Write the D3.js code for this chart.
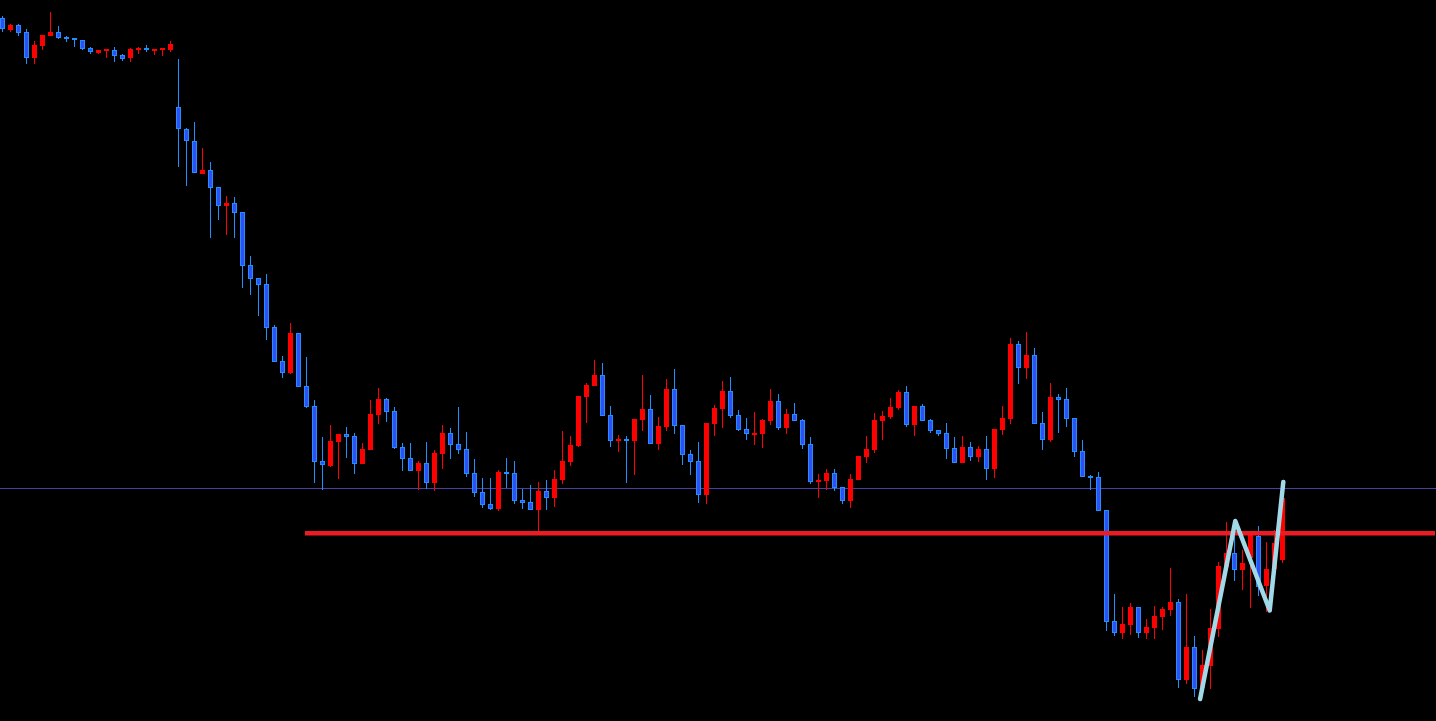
<!DOCTYPE html>
<html>
<head>
<meta charset="utf-8">
<script src="https://cdn.jsdelivr.net/npm/d3@7"></script>
<style>
html,body{margin:0;padding:0;background:#000;overflow:hidden;}
svg{display:block;}
</style>
</head>
<body>
<svg id="chart" width="1436" height="721"></svg>
<script>
// OHLC data (price points), one entry per bar
const open = [703,691,696,689,663,675,685,689,684,683,681,673,668,670.5,671,666,663,671,673,671,671,671,
614,592,580,547,551,534,515,518,509,456,443,437,394,360,348,388,335,315,260,255,279,287,285,257,271,306,322,310,274,263,250,258,238,267,288,277,272,248,229,217,212,249,248,221,219,211,230,223,241,259,275,324,335,346,306,280,282,280,301,312,277,294,332,296,267,260,226,297,312,330,306,292,287,287,300,320,293,307,301,277,239,240,248,234,220,241,264,271,300,304,313,329,296,315,301,291,288,273,258,274,264,272,252,291,302,377,353,366,298,281,324,322,303,270,245,244,211,100,88,96,114,88,93,104,111,119,41,74,33,55,92,154,168,151,163,185,135,152,161];
const high = [705,697,697,692,680,686,709,695,685,683,681,674,671,672,674,667,673,674,676,672,673,680,
662,593,599,573,559,534,525,524,509,465,443,447,396,365,398,388,364,321,284,296,287,294,288,278,321,333,323,314,278,278,260,279,271,296,293,314,289,262,243,243,251,263,260,232,236,239,241,251,290,285,325,338,361,358,315,286,285,302,346,326,304,342,352,296,271,279,298,316,340,344,311,303,309,302,332,327,312,318,302,284,247,252,252,234,247,265,285,308,310,323,331,335,315,317,302,291,298,284,285,279,275,285,292,315,383,380,389,373,309,338,327,333,303,281,246,249,211,127,114,118,114,102,115,114,153,122,127,85,71,112,159,199,193,171,186,195,179,191,231];
const low = [689,689,685,657,657,671,685,682,679,674,671,667,667,663,659,660,659,667,669,666,665,669,
554,535,548,547,483,501,486,483,433,426,405,381,359,343,347,334,313,238,231,254,242,263,247,257,271,297,299,272,250,250,231,232,230,252,262,267,244,224,213,211,210,233,217,212,211,186,211,214,237,255,274,298,335,305,274,269,238,246,290,277,271,290,287,256,246,218,217,285,293,303,290,281,276,273,296,291,287,300,272,237,223,231,230,217,213,241,258,268,281,302,311,294,285,300,288,285,262,258,258,260,259,241,243,286,297,337,342,297,271,279,288,294,264,244,231,210,90,85,82,86,83,82,82,91,105,33,37,24,29,32,84,154,140,131,113,125,109,146,158];
const close = [692,696,688,663,676,686,689,683,682,681,672,669,671,671.5,665,662,672,673,671,672,673,677,
592,580,548,551,533,515,518,508,455,442,436,393,359,348,388,334,314,259,256,280,287,284,257,272,307,322,309,273,262,250,258,238,268,288,276,271,247,228,216,212,249,247,220,218,211,230,223,242,260,276,325,336,346,305,280,282,280,302,312,277,295,332,295,266,259,226,298,313,330,305,291,287,288,301,320,293,307,300,276,239,241,248,233,220,242,265,272,301,305,314,329,296,315,300,290,287,272,258,274,264,272,252,292,303,377,353,366,297,281,324,321,302,269,244,243,210,99,88,97,114,88,94,105,112,119,41,74,32,56,93,155,168,151,158,186,134,152,178,223];

// Horizontal levels (price points)
const levelBlue = 232.5;
const levelRed = 187.7;
const levelRedStartIndex = 37.8;

// ZigZag turning points (bar index, price points)
const zzIndex = [149.7, 154.1, 158.4, 160.1];
const zzValue = [22, 200, 110.5, 239];

const W = 1436, H = 721;
const n = open.length;
const x = d3.scaleLinear().domain([0, 160]).range([2.5, 1282.5]);
const y = d3.scaleLinear().domain([0, 721]).range([721, 0]);

const svg = d3.select("#chart");
svg.append("rect").attr("width", W).attr("height", H).attr("fill", "#000");

const bars = d3.range(n).map(i => ({i, o: open[i], h: high[i], l: low[i], c: close[i], up: close[i] >= open[i]}));

// blue level line
svg.append("line")
  .attr("x1", 0).attr("x2", W)
  .attr("y1", Math.round(y(levelBlue)) + 0.5).attr("y2", Math.round(y(levelBlue)) + 0.5)
  .attr("stroke", "#4b3fa6").attr("stroke-width", 1);

const g = svg.append("g").attr("shape-rendering", "crispEdges");

// wicks
g.selectAll("line.wick").data(bars).join("line")
  .attr("class", "wick")
  .attr("x1", d => x(d.i)).attr("x2", d => x(d.i))
  .attr("y1", d => Math.round(y(d.h))).attr("y2", d => Math.round(y(d.l)))
  .attr("stroke", d => d.up ? "#ff0000" : "#1e90ff")
  .attr("stroke-width", 1);

// bodies
g.selectAll("rect.body").data(bars).join("rect")
  .attr("class", "body")
  .attr("x", d => x(d.i) - 2)
  .attr("width", 4)
  .attr("y", d => Math.round(y(Math.max(d.o, d.c))) + 0.5)
  .attr("height", d => Math.max(0.5, Math.round(y(Math.min(d.o, d.c))) - Math.round(y(Math.max(d.o, d.c))) - 1))
  .attr("fill", d => d.up ? "#ff0000" : "#3050f5")
  .attr("stroke", d => d.up ? "#ff0000" : "#1e90ff")
  .attr("stroke-width", 1);

// red level line
svg.append("line")
  .attr("x1", x(levelRedStartIndex)).attr("x2", W - 1)
  .attr("y1", y(levelRed)).attr("y2", y(levelRed))
  .attr("stroke", "#ec1c24").attr("stroke-width", 4.5);

// zigzag
const zz = zzIndex.map((v, k) => [x(v), y(zzValue[k])]);
svg.append("path")
  .attr("d", d3.line()(zz))
  .attr("fill", "none")
  .attr("stroke", "#a2d9e8")
  .attr("stroke-width", 4.5)
  .attr("stroke-linecap", "round")
  .attr("stroke-linejoin", "round");
</script>
</body>
</html>
